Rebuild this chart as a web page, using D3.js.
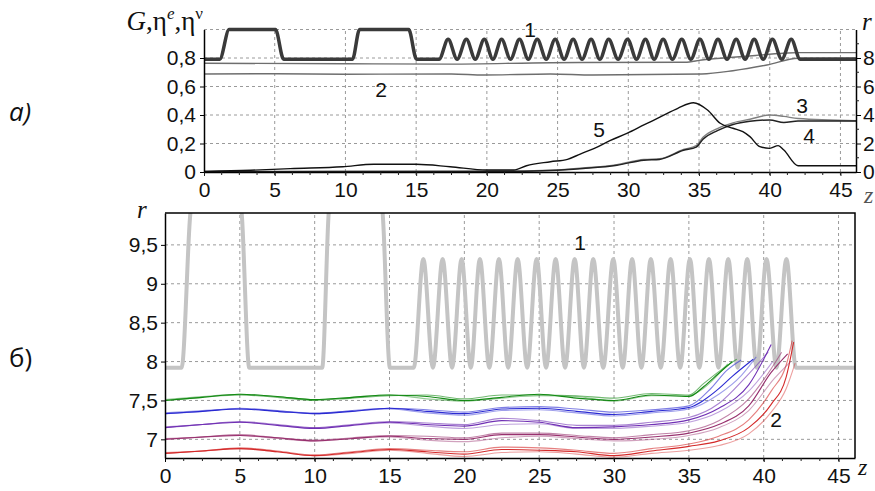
<!DOCTYPE html>
<html>
<head>
<meta charset="utf-8">
<script src="https://cdn.jsdelivr.net/npm/d3@7"></script>
<style>
  body { margin: 0; background: #fff; }
  svg { display: block; }
  .tick text { font-family: "Liberation Sans", Arial, sans-serif; font-size: 21px; fill: #111; }
</style>
</head>
<body>
<svg id="chart" width="875" height="491"></svg>
<script>
// ---- data ----
const zTicks = [0, 5, 10, 15, 20, 25, 30, 35, 40, 45];
const topLeftTicks = [0, 0.2, 0.4, 0.6, 0.8];
const topRightTicks = [0, 2, 4, 6, 8];
const bottomRTicks = [7, 7.5, 8, 8.5, 9, 9.5];

// curve 1: wall radius r(z)
const wallZ = [0, 1.11, 1.78, 5.05, 5.63, 10.5, 11.0, 14.47, 15.03, 16.62,
  17.26, 17.9, 18.55, 19.18, 19.82, 20.43, 21.04, 21.67, 22.31, 22.93,
  23.56, 24.2, 24.83, 25.46, 26.1, 26.73, 27.37, 27.99, 28.61, 29.28,
  29.95, 30.58, 31.21, 31.83, 32.46, 33.12, 33.78, 34.42, 35.07, 35.7,
  36.34, 36.98, 37.63, 38.26, 38.9, 39.54, 40.19, 40.85, 41.52, 42.15, 46.1];
const wallR = [7.92, 7.92, 10, 10, 7.92, 7.92, 10, 10, 7.92, 7.92,
  9.32, 7.92, 9.32, 7.92, 9.32, 7.92, 9.32, 7.92, 9.32, 7.92,
  9.32, 7.92, 9.32, 7.92, 9.32, 7.92, 9.32, 7.92, 9.32, 7.92,
  9.32, 7.92, 9.32, 7.92, 9.32, 7.92, 9.32, 7.92, 9.32, 7.92,
  9.32, 7.92, 9.32, 7.92, 9.32, 7.92, 9.32, 7.92, 9.32, 7.92, 7.92];

// curve 2 (two lines)
const c2aZ = [0, 10, 17.5, 24.5, 34, 35.2, 37.4, 39, 41, 42, 46.1];
const c2aV = [0.763, 0.76, 0.757, 0.767, 0.77, 0.786, 0.805, 0.818, 0.833, 0.838, 0.838];
const c2bZ = [0, 5, 10, 17.5, 19.8, 24.5, 27.5, 35.2, 37.4, 39.8, 42, 46.1];
const c2bV = [0.688, 0.69, 0.686, 0.688, 0.681, 0.688, 0.681, 0.688, 0.711, 0.751, 0.798, 0.8];

// curves 3 and 4
const c34Z = [0, 17.4, 22, 24.5, 26.8, 29.2, 31.1, 32.2, 33.9, 34.8, 35.3, 36.3, 37.4, 38.6, 40, 41, 42, 46.1];
const c3V = [0.003, 0.005, 0.006, 0.012, 0.028, 0.052, 0.088, 0.093, 0.158, 0.185, 0.245, 0.305, 0.345, 0.37, 0.4, 0.39, 0.375, 0.36];
const c4V = [0.002, 0.004, 0.005, 0.01, 0.025, 0.048, 0.083, 0.088, 0.152, 0.175, 0.232, 0.29, 0.333, 0.356, 0.365, 0.348, 0.358, 0.358];

// curve 5
const c5Z = [0, 3.3, 6.1, 9.8, 12, 15, 17.4, 20, 21.9, 22.8, 24.5, 25.7, 26.6, 27.6, 28.7, 29.9,
  31.1, 32.3, 33.5, 34.6, 35.6, 36.5, 37.4, 38.1, 38.6, 39.3, 40, 40.6, 41, 42, 46.1];
const c5V = [0.004, 0.012, 0.024, 0.037, 0.054, 0.054, 0.037, 0.014, 0.014, 0.044, 0.072, 0.089, 0.126, 0.166, 0.22, 0.271,
  0.33, 0.388, 0.447, 0.486, 0.435, 0.342, 0.307, 0.283, 0.248, 0.178, 0.166, 0.185, 0.154, 0.044, 0.044];

// electron trajectories r(z), curve 2 of panel b
const trajZ = [0, 2.5, 5, 7.5, 10, 12.5, 15, 17.5, 20, 22.5, 25, 27.5, 30, 32.5, 35];
const greenR = [
  [7.50, 7.54, 7.58, 7.55, 7.51, 7.54, 7.57, 7.55, 7.50, 7.54, 7.58, 7.53, 7.50, 7.57, 7.55],
  [7.50, 7.54, 7.57, 7.54, 7.50, 7.53, 7.56, 7.57, 7.52, 7.57, 7.57, 7.56, 7.53, 7.59, 7.57],
  [7.51, 7.55, 7.58, 7.55, 7.51, 7.54, 7.57, 7.52, 7.49, 7.53, 7.56, 7.55, 7.49, 7.56, 7.56]
];
const greenTail = [
  [[36, 7.68], [37, 7.85], [37.9, 8.0]],
  [[36, 7.72], [37.2, 7.9], [38.2, 8.03]],
  [[36, 7.66], [36.8, 7.8], [37.6, 7.97]]
];
const blueR = [
  [7.33, 7.36, 7.39, 7.36, 7.33, 7.36, 7.40, 7.36, 7.33, 7.39, 7.40, 7.36, 7.32, 7.36, 7.41],
  [7.33, 7.36, 7.40, 7.37, 7.33, 7.37, 7.40, 7.38, 7.35, 7.41, 7.42, 7.39, 7.35, 7.38, 7.43],
  [7.34, 7.37, 7.39, 7.36, 7.34, 7.36, 7.39, 7.34, 7.31, 7.37, 7.38, 7.34, 7.30, 7.34, 7.39]
];
const blueTail = [
  [[36.8, 7.62], [37.9, 7.81], [39.3, 8.03]],
  [[36.5, 7.66], [37.5, 7.88], [38.5, 8.02]],
  [[37, 7.58], [38.5, 7.82], [39.5, 8.06]]
];
const purpleR = [
  [7.15, 7.19, 7.22, 7.18, 7.14, 7.18, 7.22, 7.19, 7.17, 7.24, 7.22, 7.15, 7.16, 7.19, 7.25],
  [7.15, 7.19, 7.23, 7.19, 7.15, 7.19, 7.23, 7.21, 7.19, 7.27, 7.24, 7.18, 7.18, 7.22, 7.28],
  [7.16, 7.19, 7.22, 7.18, 7.15, 7.18, 7.21, 7.17, 7.14, 7.19, 7.20, 7.14, 7.14, 7.17, 7.22]
];
const purpleTail = [
  [[37, 7.40], [39, 7.70], [40.5, 8.22]],
  [[37, 7.46], [38.8, 7.80], [40.3, 8.12]],
  [[37, 7.35], [39, 7.62], [40.6, 8.0]]
];
const maroonR = [
  [7.00, 7.03, 7.05, 7.02, 6.98, 7.01, 7.04, 7.01, 7.00, 7.06, 7.06, 7.03, 7.00, 7.03, 7.08],
  [7.00, 7.03, 7.06, 7.02, 6.99, 7.02, 7.05, 7.04, 7.02, 7.08, 7.08, 7.05, 7.02, 7.06, 7.11],
  [7.01, 7.03, 7.05, 7.01, 6.98, 7.01, 7.03, 6.99, 6.97, 7.02, 7.04, 7.01, 6.98, 7.00, 7.05]
];
const maroonTail = [
  [[37, 7.19], [39, 7.43], [40.5, 7.86], [41.6, 8.1]],
  [[37, 7.24], [39, 7.52], [40.3, 7.85], [41.2, 8.12]],
  [[37, 7.15], [39, 7.37], [40.7, 7.78], [41.8, 8.0]]
];
const redR = [
  [6.82, 6.85, 6.88, 6.84, 6.79, 6.83, 6.87, 6.84, 6.81, 6.87, 6.86, 6.84, 6.79, 6.85, 6.91],
  [6.82, 6.85, 6.89, 6.85, 6.80, 6.84, 6.88, 6.86, 6.84, 6.90, 6.89, 6.86, 6.82, 6.88, 6.94],
  [6.83, 6.85, 6.88, 6.84, 6.79, 6.82, 6.86, 6.82, 6.78, 6.83, 6.84, 6.81, 6.77, 6.82, 6.86]
];
const redTail = [
  [[37, 6.98], [39, 7.15], [40.5, 7.45], [41.5, 7.8], [42, 8.25]],
  [[37, 7.04], [39, 7.25], [40.5, 7.62], [41.6, 8.02], [41.9, 8.27]],
  [[37, 6.92], [39, 7.07], [40.5, 7.35], [41.5, 7.65], [42.1, 7.98]]
];

// ---- drawing ----
const svg = d3.select('#chart');
const fmt = d => String(d).replace('.', ',');
const zMax = 46.1;

const xTop = d3.scaleLinear().domain([0, zMax]).range([204, 856]);
const yTop = d3.scaleLinear().domain([0, 1]).range([172, 29.5]);
const rTop = d3.scaleLinear().domain([0, 10]).range([172, 29.5]);

const xBot = d3.scaleLinear().domain([0, zMax]).range([165, 855]);
const yBot = d3.scaleLinear().domain([6.76, 9.91]).range([458, 213]);

const gridColor = '#9a9a9a';

// panel a grid
const gTop = svg.append('g');
gTop.selectAll('.vg').data(zTicks.slice(1)).enter().append('line')
  .attr('x1', d => xTop(d)).attr('x2', d => xTop(d))
  .attr('y1', yTop(0)).attr('y2', yTop(1))
  .attr('stroke', gridColor).attr('stroke-dasharray', '3,3');
gTop.selectAll('.hg').data([0.2, 0.4, 0.6, 0.8, 1]).enter().append('line')
  .attr('x1', xTop(0)).attr('x2', xTop(zMax))
  .attr('y1', d => yTop(d)).attr('y2', d => yTop(d))
  .attr('stroke', gridColor).attr('stroke-dasharray', '3,3');

const lineTop = d3.line().x(d => xTop(d[0])).y(d => yTop(d[1])).curve(d3.curveMonotoneX);
const wallTop = d3.line().x(d => xTop(d[0])).y(d => rTop(d[1])).curve(d3.curveMonotoneX);

gTop.append('path').attr('d', lineTop(d3.zip(c2aZ, c2aV)))
  .attr('fill', 'none').attr('stroke', '#6e6e6e').attr('stroke-width', 1.4);
gTop.append('path').attr('d', lineTop(d3.zip(c2bZ, c2bV)))
  .attr('fill', 'none').attr('stroke', '#6e6e6e').attr('stroke-width', 1.4);
gTop.append('path').attr('d', lineTop(d3.zip(c34Z, c3V)))
  .attr('fill', 'none').attr('stroke', '#808080').attr('stroke-width', 1.4);
gTop.append('path').attr('d', lineTop(d3.zip(c34Z, c4V)))
  .attr('fill', 'none').attr('stroke', '#222').attr('stroke-width', 1.5);
gTop.append('path').attr('d', lineTop(d3.zip(c5Z, c5V)))
  .attr('fill', 'none').attr('stroke', '#111').attr('stroke-width', 1.4);
gTop.append('path').attr('d', wallTop(d3.zip(wallZ, wallR)))
  .attr('fill', 'none').attr('stroke', '#3a3a3a').attr('stroke-width', 3.5)
  .attr('stroke-linejoin', 'round');

// panel a axes
const axTopX = gTop.append('g').attr('transform', `translate(0,${yTop(0)})`)
  .call(d3.axisBottom(xTop).tickValues(zTicks).tickSize(4).tickSizeOuter(0).tickPadding(6).tickFormat(fmt));
axTopX.selectAll('.tick line').attr('stroke', '#222');
axTopX.append('g').selectAll('line').data(d3.range(1.25, zMax, 1.25)).enter().append('line')
  .attr('x1', d => xTop(d)).attr('x2', d => xTop(d)).attr('y1', 0).attr('y2', 3).attr('stroke', '#222');
axTopX.select('.domain').attr('stroke', '#000').attr('stroke-width', 1.5);

const axTopL = gTop.append('g').attr('transform', `translate(${xTop(0)},0)`)
  .call(d3.axisLeft(yTop).tickValues(topLeftTicks).tickSize(4).tickSizeOuter(0).tickPadding(4).tickFormat(fmt));
axTopL.select('.domain').attr('stroke', '#000').attr('stroke-width', 1.5);

const axTopR = gTop.append('g').attr('transform', `translate(${xTop(zMax)},0)`)
  .call(d3.axisRight(rTop).tickValues(topRightTicks).tickSize(5).tickSizeOuter(0).tickPadding(2).tickFormat(fmt));
axTopR.append('g').selectAll('line').data([1, 3, 5, 7, 9]).enter().append('line')
  .attr('x1', 0).attr('x2', 3).attr('y1', d => rTop(d)).attr('y2', d => rTop(d)).attr('stroke', '#222');
axTopR.select('.domain').attr('stroke', '#000').attr('stroke-width', 1.5);

// panel b
const gBot = svg.append('g');
svg.append('clipPath').attr('id', 'clipB').append('rect')
  .attr('x', xBot(0)).attr('y', yBot(9.91)).attr('width', xBot(zMax) - xBot(0)).attr('height', yBot(6.76) - yBot(9.91));

gBot.selectAll('.vg').data(zTicks.slice(1)).enter().append('line')
  .attr('x1', d => xBot(d)).attr('x2', d => xBot(d))
  .attr('y1', yBot(6.76)).attr('y2', yBot(9.91))
  .attr('stroke', gridColor).attr('stroke-dasharray', '3,3');
gBot.selectAll('.hg').data(bottomRTicks).enter().append('line')
  .attr('x1', xBot(0)).attr('x2', xBot(zMax))
  .attr('y1', d => yBot(d)).attr('y2', d => yBot(d))
  .attr('stroke', gridColor).attr('stroke-dasharray', '3,3');

const lineBot = d3.line().x(d => xBot(d[0])).y(d => yBot(d[1])).curve(d3.curveMonotoneX);
const plotB = gBot.append('g').attr('clip-path', 'url(#clipB)');

plotB.append('path').attr('d', lineBot(d3.zip(wallZ, wallR)))
  .attr('fill', 'none').attr('stroke', '#c4c4c4').attr('stroke-width', 4)
  .attr('stroke-linejoin', 'round');

const groups = [
  { color: '#d42a2a', r: redR, tail: redTail },
  { color: '#98306e', r: maroonR, tail: maroonTail },
  { color: '#7030b4', r: purpleR, tail: purpleTail },
  { color: '#2a2ad2', r: blueR, tail: blueTail },
  { color: '#148a14', r: greenR, tail: greenTail }
];
const opac = [1, 0.6, 0.45];
groups.forEach(g => {
  g.r.forEach((rs, i) => {
    const pts = d3.zip(trajZ, rs).concat(g.tail[i]);
    plotB.append('path').attr('d', lineBot(pts))
      .attr('fill', 'none').attr('stroke', g.color).attr('stroke-width', 1.1)
      .attr('stroke-opacity', opac[i]);
  });
});

const axBotX = gBot.append('g').attr('transform', `translate(0,${yBot(6.76)})`)
  .call(d3.axisBottom(xBot).tickValues(zTicks).tickSize(4).tickSizeOuter(0).tickPadding(6).tickFormat(fmt));
axBotX.append('g').selectAll('line').data(d3.range(1.25, zMax, 1.25)).enter().append('line')
  .attr('x1', d => xBot(d)).attr('x2', d => xBot(d)).attr('y1', 0).attr('y2', 3).attr('stroke', '#222');
axBotX.select('.domain').attr('stroke', '#000').attr('stroke-width', 1.5);

const axBotL = gBot.append('g').attr('transform', `translate(${xBot(0)},0)`)
  .call(d3.axisLeft(yBot).tickValues(bottomRTicks).tickSize(4).tickSizeOuter(0).tickPadding(3).tickFormat(fmt));
axBotL.select('.domain').attr('stroke', '#000').attr('stroke-width', 1.5);

// frame top/right
gBot.append('path')
  .attr('d', `M${xBot(0)},${yBot(9.91)}H${xBot(zMax)}V${yBot(6.76)}`)
  .attr('fill', 'none').attr('stroke', '#000').attr('stroke-width', 1.5);

// ---- texts ----
const serif = '"Liberation Serif", "DejaVu Serif", serif';
const sans = '"Liberation Sans", Arial, sans-serif';

const title = svg.append('text').attr('x', 203).attr('y', 30).attr('text-anchor', 'end')
  .attr('font-family', serif).attr('font-size', 27).attr('fill', '#111');
title.append('tspan').attr('font-style', 'italic').text('G');
title.append('tspan').text(',η');
title.append('tspan').attr('font-style', 'italic').attr('font-size', 17).attr('dy', -11).text('e');
title.append('tspan').attr('dy', 11).text(',η');
title.append('tspan').attr('font-size', 17).attr('dy', -11).text('ν');

svg.append('text').attr('x', 862).attr('y', 30).attr('font-family', serif).attr('font-style', 'italic')
  .attr('font-size', 25).attr('fill', '#111').text('r');
svg.append('text').attr('x', 864).attr('y', 203).attr('font-family', serif).attr('font-style', 'italic')
  .attr('font-size', 24).attr('fill', '#555').text('z');
svg.append('text').attr('x', 137).attr('y', 218).attr('font-family', serif).attr('font-style', 'italic')
  .attr('font-size', 25).attr('fill', '#111').text('r');
svg.append('text').attr('x', 858).attr('y', 475).attr('font-family', serif).attr('font-style', 'italic')
  .attr('font-size', 24).attr('fill', '#111').text('z');

svg.append('text').attr('x', 9).attr('y', 121).attr('font-family', '"Open Sans", sans-serif')
  .attr('font-style', 'italic').attr('font-size', 26).attr('fill', '#111').text('а)');
svg.append('text').attr('x', 9).attr('y', 367).attr('font-family', '"Open Sans", sans-serif')
  .attr('font-size', 26).attr('fill', '#111').text('б)');

const curveLabels = [
  { t: '1', x: 530, y: 37 }, { t: '2', x: 381, y: 97 }, { t: '3', x: 802, y: 113 },
  { t: '4', x: 809, y: 143 }, { t: '5', x: 599, y: 137 },
  { t: '1', x: 580, y: 250 }, { t: '2', x: 776, y: 427 }
];
svg.selectAll('.clab').data(curveLabels).enter().append('text')
  .attr('x', d => d.x).attr('y', d => d.y).attr('text-anchor', 'middle')
  .attr('font-family', sans).attr('font-size', 21).attr('fill', '#111').text(d => d.t);
</script>
</body>
</html>
